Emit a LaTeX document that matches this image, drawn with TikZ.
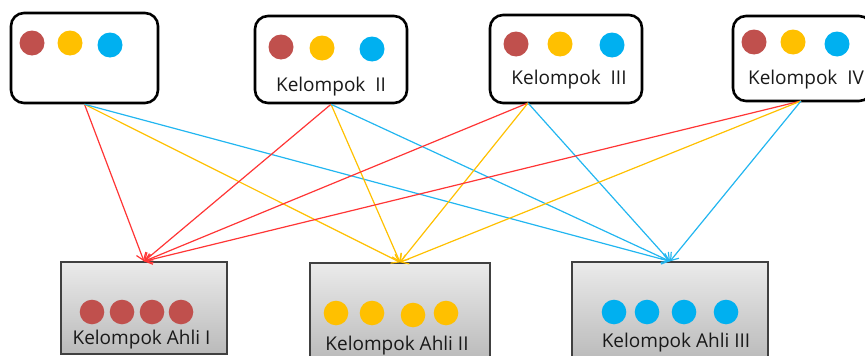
\documentclass[tikz,border=0pt]{standalone}
\usepackage{fontspec}
\setmainfont{Open Sans}
\usetikzlibrary{arrows.meta}
\definecolor{dotred}{HTML}{C0504D}
\definecolor{dotyellow}{HTML}{FFC000}
\definecolor{dotblue}{HTML}{00B0F0}
\definecolor{linered}{HTML}{FF3535}
\definecolor{lineyellow}{HTML}{FFC000}
\definecolor{lineblue}{HTML}{22B6F0}

\begin{document}
\begin{tikzpicture}[x=1pt, y=-1pt, every node/.style={font=\fontsize{19}{22}\selectfont, text=black!90}, >={Straight Barb[length=7pt, width=10pt]},
	group/.style={draw=black, line width=2.6pt, rounded corners=13pt, inner sep=0pt},
	expert/.style={draw=black!75, line width=1.4pt, top color=black!8, bottom color=black!27, inner sep=0pt},
	link/.style={->, line width=1.2pt}]
	\useasboundingbox (0,0) rectangle (865,356);
	% kelompok asal
	\node[group, minimum width=147pt, minimum height=90pt] (g1) at (84.5,58) {};
	\node[group, minimum width=152pt, minimum height=87pt] (g2) at (331,59.5) {};
	\node[group, minimum width=152pt, minimum height=88pt] (g3) at (566,59) {};
	\node[group, minimum width=139pt, minimum height=85pt] (g4) at (802.5,58.5) {};
	\node[anchor=base] (t2) at (331,91) {Kelompok\ \ II};
	\node[anchor=base] (t3) at (569,84) {Kelompok\ \ III};
	\node[anchor=base] (t4) at (806,84) {Kelompok\ \ IV};
	\fill[dotred] (32,43) circle[radius=12.5pt]; \fill[dotyellow] (70,43) circle[radius=12.5pt]; \fill[dotblue] (110,45) circle[radius=12.5pt];
	\fill[dotred] (281,47) circle[radius=12.5pt]; \fill[dotyellow] (322,48) circle[radius=12.5pt]; \fill[dotblue] (372,49) circle[radius=12.5pt];
	\fill[dotred] (516,44) circle[radius=12.5pt]; \fill[dotyellow] (560,44) circle[radius=12.5pt]; \fill[dotblue] (612,45) circle[radius=12.5pt];
	\fill[dotred] (754,42) circle[radius=12.5pt]; \fill[dotyellow] (793,42) circle[radius=12.5pt]; \fill[dotblue] (837,44) circle[radius=12.5pt];
	% kelompok ahli
	\node[expert, minimum width=166pt, minimum height=92pt] (a1) at (144,308) {};
	\node[expert, minimum width=180pt, minimum height=97pt] (a2) at (400,311.5) {};
	\node[expert, minimum width=196pt, minimum height=98pt] (a3) at (670,311) {};
	\node[anchor=base] (e1) at (141.5,344) {Kelompok Ahli I};
	\node[anchor=base] (e2) at (397,350) {Kelompok Ahli II};
	\node[anchor=base] (e3) at (676,347) {Kelompok Ahli III};
	\foreach \x in {92,122,152,181} \fill[dotred] (\x,312) circle[radius=12.3pt];
	\foreach \x/\y in {336/313,372/313,413/315,446/313} \fill[dotyellow] (\x,\y) circle[radius=12.3pt];
	\foreach \x in {614,647,684,726} \fill[dotblue] (\x,312) circle[radius=12.3pt];
	\coordinate (g3s) at (528,103);
	\coordinate (g4s) at (801,101);
	% anggota menuju kelompok ahli
	\draw[link, linered] (g1.south) -- (a1.north);
	\draw[link, lineyellow] (g1.south) -- (a2.north);
	\draw[link, lineblue] (g1.south) -- (a3.north);
	\draw[link, linered] (g2.south) -- (a1.north);
	\draw[link, lineyellow] (g2.south) -- (a2.north);
	\draw[link, lineblue] (g2.south) -- (a3.north);
	\draw[link, linered] (g3s) -- (a1.north);
	\draw[link, lineyellow] (g3s) -- (a2.north);
	\draw[link, lineblue] (g3s) -- (a3.north);
	\draw[link, linered] (g4s) -- (a1.north);
	\draw[link, lineyellow] (g4s) -- (a2.north);
	\draw[link, lineblue] (g4s) -- (a3.north);
\end{tikzpicture}
\end{document}
